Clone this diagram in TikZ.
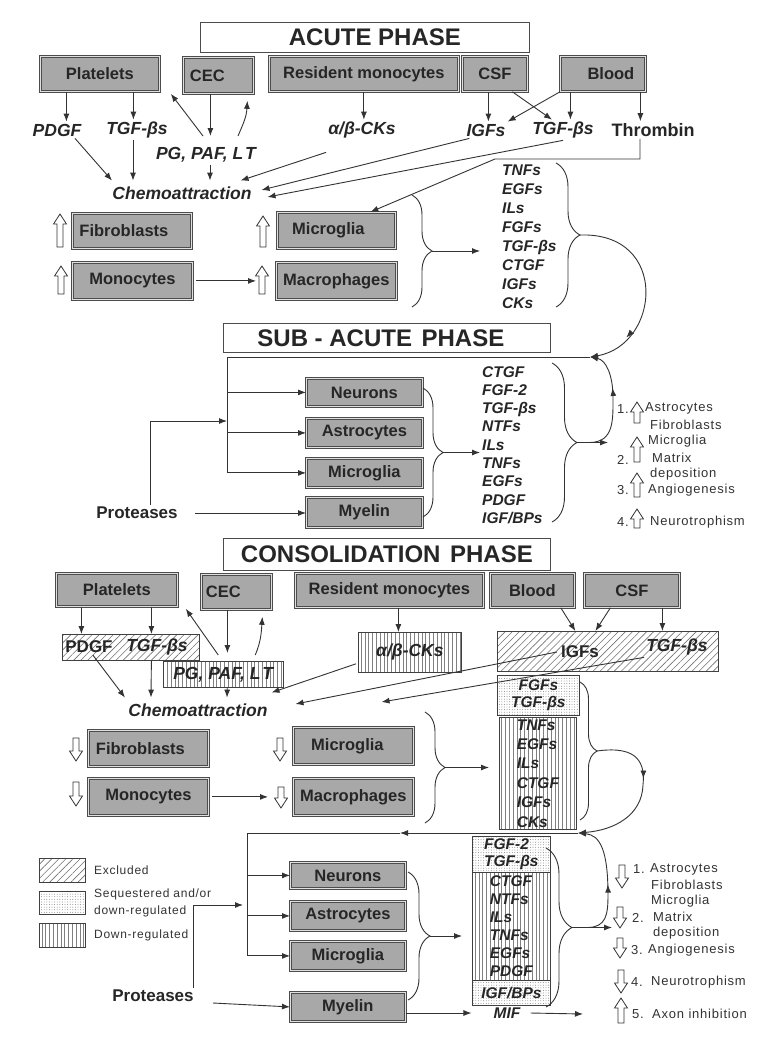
\documentclass[tikz,border=0pt]{standalone}
\usepackage{fontspec}
\setmainfont{Liberation Sans}
\newfontfamily\spacedsans[LetterSpace=6]{Liberation Sans}
\usetikzlibrary{arrows.meta,patterns.meta,decorations.pathreplacing,decorations.markings}
\tikzset{
	cell/.style={draw=black!70, double=black!12, double distance=1.4pt, line width=0.8pt, fill=black!34, text=black!85, font=\bfseries\fontsize{16.5}{18}\selectfont, inner sep=0pt, anchor=north west},
	phase/.style={draw=black!70, line width=0.8pt, fill=white, text=black!85, font=\bfseries\fontsize{24}{26}\selectfont, inner sep=0pt, anchor=north west},
	lbl/.style={font=\bfseries\itshape\fontsize{17.5}{19}\selectfont, text=black!85, inner sep=2pt},
	upr/.style={font=\bfseries\fontsize{17}{19}\selectfont, text=black!85, inner sep=2pt},
	lst/.style={font=\bfseries\itshape\fontsize{15.5}{19}\selectfont, text=black!85, inner sep=2pt, align=left},
	note/.style={font=\spacedsans\fontsize{13}{15}\selectfont, text=black!80, inner sep=0pt, anchor=west},
	ln/.style={draw=black!80, line width=0.9pt},
	arr/.style={ln, -{Latex[length=8pt,width=6pt]}},
	midarr/.style={postaction={decorate, decoration={markings, mark=at position #1 with {\arrow{Latex[length=8pt,width=6pt]}}}}},
	brc/.style={ln, decorate, decoration={brace, amplitude=#1}},
	blk/.style={draw=black!80, line width=0.8pt, fill=white},
	hatch/.style={draw=black!75, line width=0.8pt, pattern={Lines[angle=45,distance=5pt,line width=0.6pt]}, pattern color=black!55},
	vlin/.style={draw=black!75, line width=0.8pt, pattern={Lines[angle=90,distance=3.8pt,line width=0.5pt]}, pattern color=black!50},
	dots/.style={draw=black!75, line width=0.8pt, pattern={Dots[distance=2.6pt,radius=0.45pt]}, pattern color=black!55}
}
\newcommand\upblk[3]{\draw[blk] (#1-3,#3) -- (#1-3,#2+10) -- (#1-6.5,#2+10) -- (#1,#2) -- (#1+6.5,#2+10) -- (#1+3,#2+10) -- (#1+3,#3) -- cycle;}
\newcommand\dnblk[3]{\draw[blk] (#1-3,#2) -- (#1-3,#3-10) -- (#1-6.5,#3-10) -- (#1,#3) -- (#1+6.5,#3-10) -- (#1+3,#3-10) -- (#1+3,#2) -- cycle;}

\begin{document}
\begin{tikzpicture}[x=1pt,y=-1pt]
	\fill[white] (0,0) rectangle (767,1045);
	\useasboundingbox (0,0) rectangle (767,1045);

	\node[phase, minimum width=329pt, minimum height=30pt] (acute) at (200,22) {\hspace*{20pt}ACUTE PHASE};
	\node[cell, minimum width=119pt, minimum height=35pt] (plt) at (40,56) {Platelets};
	\node[cell, minimum width=70pt, minimum height=36pt] (cec) at (183,57) {CEC\hspace*{22pt}};
	\node[cell, minimum width=189pt, minimum height=35pt] (res) at (269,56) {Resident monocytes};
	\node[cell, minimum width=65pt, minimum height=35pt] (csf) at (462,56) {CSF};
	\node[cell, minimum width=85pt, minimum height=35pt] (blood) at (560,56) {\hspace*{16pt}Blood};

	\node[lbl] (pdgf) at (57,130) {PDGF};
	\node[lbl] (tgf) at (137,130) {TGF-βs};
	\node[lbl] (abck) at (362,130) {α/β-CKs};
	\node[lbl] (igf) at (486,130) {IGFs};
	\node[lbl] (tgfb) at (563,130) {TGF-βs};
	\node[upr, font=\bfseries\fontsize{18}{20}\selectfont] (thr) at (653,130) {Thrombin};
	\node[lbl] (pg) at (206,155) {PG, PAF, L\kern2pt T};
	\node[lbl, outer sep=4pt] (chemo) at (182,193) {Chemoattraction};
	\coordinate (pgtop) at (206,136);
	\coordinate (tbend) at (495,159);

	\draw[arr] ([xshift=-33.5]plt.south) -- ([xshift=-33.5]plt.south |- pdgf.north);
	\draw[arr] ([xshift=33.5]plt.south) -- ([xshift=33.5]plt.south |- tgf.north);
	\draw[arr] ([xshift=-4]tgf.south) -- ([xshift=-4]tgf.south |- chemo.north);
	\draw[arr] ([xshift=18]pdgf.south) -- ([xshift=-70]chemo.north);
	\draw[arr] ([xshift=-8]cec.south) -- ([xshift=-8]cec.south |- pgtop);
	\draw[arr] ([xshift=-3]pgtop) -- ([shift={(11,2)}]plt.south east);
	\draw[arr] ([xshift=32]pgtop) .. controls +(6,-14) and +(-1,16) .. ([shift={(29,7)}]cec.south);
	\draw[arr] ([xshift=4]pg.south) -- ([xshift=4]pg.south |- chemo.north);
	\draw[arr] ([shift={(0,12)}]abck.south west) -- ([shift={(-17,0)}]chemo.north east);
	\draw[arr] ([xshift=5]igf.south west) -- ([shift={(4,-3)}]chemo.east);
	\draw[arr] (tgfb.south) -- ([shift={(10,4)}]chemo.east);
	\draw[arr] (res.south) -- (res.south |- abck.north);
	\draw[arr] ([xshift=-6.5]csf.south) -- ([xshift=-6.5]csf.south |- igf.north);
	\draw[arr] ([xshift=17.5]csf.south) -- ([xshift=-11]tgfb.north);
	\draw[arr] (blood.south west) -- (igf.north east);
	\draw[arr] ([xshift=-32.5]blood.south) -- ([xshift=-32.5]blood.south |- tgfb.north);
	\draw[arr] ([xshift=37.5]blood.south) -- ([xshift=37.5]blood.south |- thr.north);

	\node[cell, minimum width=119pt, minimum height=35pt] (fib) at (72,213) {Fibroblasts\hspace*{16pt}};
	\node[cell, minimum width=118pt, minimum height=36pt] (mic) at (277,212) {Microglia\hspace*{16pt}};
	\node[cell, minimum width=120pt, minimum height=37pt] (mono) at (72,262) {Monocytes};
	\node[cell, minimum width=120pt, minimum height=37pt] (mac) at (276,262) {Macrophages};
	\upblk{60}{214}{247}
	\upblk{263}{216}{247}
	\upblk{61}{266}{294}
	\upblk{262}{266}{294}
	\draw[arr] ([xshift=-13]thr.south) |- (tbend) -- ([xshift=34]mic.north);
	\draw[arr] ([xshift=3]mono.east) -- ([xshift=-20]mac.west);

	\node[lst, anchor=west] (alist) at (500,236.5) {TNFs\\EGFs\\ILs\\FGFs\\TGF-βs\\CTGF\\IGFs\\CKs};
	\coordinate (ab1) at (412,195);
	\coordinate (ab2) at (412,307);
	\coordinate (abt) at (432,251);
	\draw[brc=20pt] (ab1) -- (ab2);
	\draw[arr, shorten >=20pt] (abt) -- (abt -| alist.west);
	\coordinate (ar1) at (556,163);
	\coordinate (ar2) at (556,307);
	\coordinate (art) at (580,235);
	\coordinate (j1) at (590,357);
	\draw[brc=24pt] (ar1) -- (ar2);
	\draw[arr, midarr=0.78] (art) .. controls (670,232) and (660,345) .. (j1);

	\node[phase, minimum width=327pt, minimum height=29pt] (sub) at (223,323) {SUB - ACUTE\hspace{0.4em}PHASE\hspace*{12pt}};
	\coordinate (c1) at (227,357);
	\coordinate (p1) at (227,421);
	\node[cell, minimum width=116pt, minimum height=28pt] (neu) at (306,378) {Neurons};
	\node[cell, minimum width=116pt, minimum height=29pt] (ast) at (306,418) {Astrocytes};
	\node[cell, minimum width=116pt, minimum height=29pt] (mic2) at (306,458) {Microglia};
	\node[cell, minimum width=116pt, minimum height=30pt] (mye) at (306,497) {Myelin};
	\node[upr] (prot) at (137,513) {Proteases};
	\draw[arr] (j1) -- (c1) -- (c1 |- mic2.west) -- (mic2.west);
	\draw[arr] (c1 |- neu.west) -- (neu.west);
	\draw[arr] (c1 |- ast.west) -- (ast.west);
	\draw[arr] ([xshift=13]prot.north) |- (p1);
	\draw[arr] ([xshift=15]prot.east) -- (prot.east -| mye.west);

	\node[lst, anchor=west, font=\bfseries\itshape\fontsize{15.5}{18.3}\selectfont] (slist) at (480,445) {CTGF\\FGF-2\\TGF-βs\\NTFs\\ILs\\TNFs\\EGFs\\PDGF\\IGF/BPs};
	\coordinate (sb1) at (423,388);
	\coordinate (sb2) at (423,517);
	\coordinate (sbt) at (443,452.5);
	\draw[brc=20pt] (sb1) -- (sb2);
	\draw[arr] (sbt) -- (sbt -| slist.west);
	\coordinate (sr1) at (552,363);
	\coordinate (sr2) at (552,522);
	\coordinate (srt) at (577,442.5);
	\coordinate (sl) at (590,442.5);
	\coordinate (sout) at (608,442.5);
	\draw[brc=25pt] (sr1) -- (sr2);
	\draw[arr] (srt) -- (sout);
	\draw[arr, midarr=0.62] (sl) .. controls (614,442) and (613,420) .. (613,398) .. controls (613,375) and (606,360) .. (j1);

	\upblk{637}{402}{423}
	\upblk{637}{437}{462}
	\upblk{637}{473}{497}
	\upblk{637}{509}{528}
	\node[note] (s1n) at (617,409) {1.};
	\node[note] (s1a) at (645,408) {Astrocytes};
	\node[note] (s1b) at (650,425) {Fibroblasts};
	\node[note] (s1c) at (648,441) {Microglia};
	\node[note] (s2n) at (617,460) {2.};
	\node[note] (s2a) at (652,458) {Matrix};
	\node[note] (s2b) at (650,474) {deposition};
	\node[note] (s3n) at (617,490) {3.};
	\node[note] (s3a) at (648,490) {Angiogenesis};
	\node[note] (s4n) at (617,522) {4.};
	\node[note] (s4a) at (650,522) {Neurotrophism};

	\node[phase, minimum width=327pt, minimum height=32pt] (cons) at (223,538) {CONSOLIDATION\hspace{0.4em}PHASE};
	\node[cell, minimum width=121pt, minimum height=33pt] (plt3) at (56,573) {Platelets};
	\node[cell, minimum width=70pt, minimum height=35pt] (cec3) at (201,574) {CEC\hspace*{26pt}};
	\node[cell, minimum width=188pt, minimum height=34pt] (res3) at (295,573) {Resident monocytes};
	\node[cell, minimum width=84pt, minimum height=34pt] (blood3) at (490,573) {Blood};
	\node[cell, minimum width=95pt, minimum height=34pt] (csf3) at (584,573) {CSF};

	\node[hatch, anchor=north west, minimum width=137pt, minimum height=26pt] (pbox) at (62,634) {};
	\node[upr] (pdgf3) at (89,647) {PDGF};
	\node[lbl] (tgf3) at (157,647) {TGF-βs};
	\node[vlin, lbl, anchor=north west, minimum width=120pt, minimum height=26pt] (pgbox) at (163,661) {PG, PAF, L\kern2pt T};
	\node[vlin, lbl, anchor=north west, minimum width=103pt, minimum height=40pt] (abbox) at (358,632) {α/β-CKs};
	\node[hatch, anchor=north west, minimum width=221pt, minimum height=40pt] (igbox) at (497,631) {};
	\node[upr] (igf3) at (580,652) {IGFs};
	\node[lbl] (tgf4) at (677,647) {TGF-βs};
	\node[lbl, outer sep=4pt] (chemo3) at (198,710) {Chemoattraction};

	\draw[arr] ([xshift=-35.5]plt3.south) -- ([xshift=-35.5]plt3.south |- pbox.north);
	\draw[arr] ([xshift=34.5]plt3.south) -- ([xshift=34.5]plt3.south |- pbox.north);
	\draw[arr] ([xshift=34.5]plt3.south |- pbox.south) -- ([xshift=-47]chemo3.north);
	\draw[arr] ([xshift=4]pdgf3.south) -- ([xshift=-73]chemo3.north);
	\draw[arr, shorten >=8pt] ([xshift=-9]cec3.south) -- ([xshift=-9]cec3.south |- pgbox.north);
	\draw[arr] ([shift={(-5,-6)}]pgbox.north) -- ([shift={(8,2)}]plt3.south east);
	\draw[arr] ([shift={(32,-6)}]pgbox.north) .. controls +(6,-14) and +(-1,14) .. ([shift={(26,7)}]cec3.south);
	\draw[arr] ([xshift=4]pgbox.south) -- ([xshift=29]chemo3.north);
	\draw[arr] ([xshift=9]res3.south) -- ([xshift=9]res3.south |- abbox.north);
	\draw[arr] ([shift={(-2,-9)}]abbox.south west) -- ([shift={(-2,-5)}]chemo3.north east);
	\draw[arr] ([xshift=-2]igf3.west) -- ([shift={(22,-6)}]chemo3.east);
	\draw[arr] (tgf4.south west) -- ([shift={(108,-8)}]chemo3.east);
	\draw[arr] ([xshift=-14]blood3.south east) -- ([xshift=-32.5]igbox.north);
	\draw[arr] ([xshift=-21.5]csf3.south) -- ([xshift=-12.5]igbox.north);
	\draw[arr] ([xshift=30.5]csf3.south) -- ([xshift=30.5]csf3.south |- igbox.north);

	\node[dots, lst, align=center, anchor=north west, minimum width=82pt, minimum height=40pt, font=\bfseries\itshape\fontsize{15.5}{17}\selectfont] (fgbox) at (497,675) {FGFs\\TGF-βs};
	\node[vlin, lst, anchor=north west, minimum width=77pt, minimum height=111pt, font=\bfseries\itshape\fontsize{15.5}{19.4}\selectfont] (tnbox) at (499,717) {TNFs\\EGFs\\ILs\\CTGF\\IGFs\\CKs};

	\node[cell, minimum width=120pt, minimum height=36pt] (fib3) at (88,730) {Fibroblasts\hspace*{16pt}};
	\node[cell, minimum width=120pt, minimum height=37pt] (mic3) at (293,727) {Microglia\hspace*{12pt}};
	\node[cell, minimum width=120pt, minimum height=37pt] (mono3) at (88,778) {Monocytes};
	\node[cell, minimum width=120pt, minimum height=37pt] (mac3) at (293,778) {Macrophages};
	\dnblk{76}{738}{761}
	\dnblk{280}{738}{761}
	\dnblk{76}{782}{806}
	\dnblk{281}{787}{808}
	\draw[arr] ([xshift=3]mono3.east) -- ([xshift=-25]mac3.west);

	\coordinate (cb1) at (425,712);
	\coordinate (cb2) at (425,823);
	\coordinate (cbt) at (445,767.5);
	\draw[brc=20pt] (cb1) -- (cb2);
	\draw[arr, shorten >=10pt] (cbt) -- (cbt -| tnbox.west);
	\coordinate (cr1) at (580,682);
	\coordinate (cr2) at (580,820);
	\coordinate (crt) at (597,751);
	\coordinate (j2) at (578,833);
	\coordinate (m2) at (400,833);
	\coordinate (c2) at (247,833);
	\draw[brc=17pt] (cr1) -- (cr2);
	\draw[arr, midarr=0.4] (crt) .. controls (640,745) and (645,765) .. (643,785) .. controls (642,815) and (615,830) .. (j2);

	\node[cell, minimum width=115pt, minimum height=26pt] (neu4) at (290,862) {Neurons};
	\node[cell, minimum width=115pt, minimum height=29pt] (ast4) at (290,901) {Astrocytes};
	\node[cell, minimum width=115pt, minimum height=29pt] (mic4) at (290,941) {Microglia};
	\node[cell, minimum width=115pt, minimum height=29pt] (mye4) at (290,992) {Myelin};
	\node[upr] (prot4) at (153,996) {Proteases};
	\coordinate (p2) at (243,905);
	\draw[arr] (j2) -- (m2);
	\draw[arr] (m2) -- (c2) -- (c2 |- mic4.west) -- (mic4.west);
	\draw[arr] (c2 |- neu4.west) -- (neu4.west);
	\draw[arr] (c2 |- ast4.west) -- (ast4.west);
	\draw[arr] ([xshift=40]prot4.north) |- (p2);
	\draw[arr] ([shift={(17,7)}]prot4.east) -- (mye4.west);

	\node[hatch, anchor=north west, minimum width=46pt, minimum height=24pt] (lg1) at (39,858) {};
	\node[dots, anchor=north west, minimum width=46pt, minimum height=23pt] (lg2) at (39,891) {};
	\node[vlin, anchor=north west, minimum width=46pt, minimum height=24pt] (lg3) at (39,923) {};
	\node[note, font=\spacedsans\fontsize{12}{17}\selectfont] (lt1) at (94,870) {Excluded};
	\node[note, align=left, font=\spacedsans\fontsize{12}{17}\selectfont] (lt2) at (94,902.5) {Sequestered and/or\\down-regulated};
	\node[note, font=\spacedsans\fontsize{12}{17}\selectfont] (lt3) at (94,935) {Down-regulated};

	\node[dots, lst, anchor=north west, minimum width=78pt, minimum height=36pt, font=\bfseries\itshape\fontsize{15.5}{17}\selectfont] (d1box) at (472,836) {FGF-2\\TGF-βs};
	\node[vlin, lst, anchor=north west, minimum width=78pt, minimum height=108pt, font=\bfseries\itshape\fontsize{15.5}{18}\selectfont] (v2box) at (472,872) {CTGF\\NTFs\\ILs\\TNFs\\EGFs\\PDGF};
	\node[dots, lst, anchor=north west, minimum width=78pt, minimum height=25pt] (d2box) at (472,980) {IGF/BPs};
	\node[lst] (mif) at (507,1013) {MIF};
	\coordinate (lb1) at (408,872);
	\coordinate (lb2) at (408,1000);
	\coordinate (lbt) at (430,936);
	\draw[brc=22pt] (lb1) -- (lb2);
	\draw[arr, shorten >=10pt] (lbt) -- (lbt -| v2box.west);
	\draw[arr, shorten >=20pt] (mye4.east |- mif.west) -- (mif.west);
	\coordinate (mout) at (583,1014);
	\draw[arr] ([xshift=8]mif.east) -- (mout);
	\coordinate (lr1) at (546,848);
	\coordinate (lr2) at (546,1007);
	\coordinate (lrt) at (572,927.5);
	\coordinate (ll) at (588,927.5);
	\coordinate (lout) at (612,927.5);
	\draw[brc=26pt] (lr1) -- (lr2);
	\draw[arr] (lrt) -- (lout);
	\draw[arr, midarr=0.45] (ll) .. controls (606,927) and (608,915) .. (608,895) .. controls (608,850) and (600,835) .. (j2);

	\dnblk{622}{865}{888}
	\dnblk{620}{907}{928}
	\dnblk{620}{938}{958}
	\dnblk{621}{970}{993}
	\upblk{621}{998}{1023}
	\node[note] (k1n) at (633,869) {1.};
	\node[note] (k1a) at (650,869) {Astrocytes};
	\node[note] (k1b) at (651,885) {Fibroblasts};
	\node[note] (k1c) at (651,901) {Microglia};
	\node[note] (k2n) at (632,918) {2.};
	\node[note] (k2a) at (653,917) {Matrix};
	\node[note] (k2b) at (653,933) {deposition};
	\node[note] (k3n) at (631,950) {3.};
	\node[note] (k3a) at (648,950) {Angiogenesis};
	\node[note] (k4n) at (631,982) {4.};
	\node[note] (k4a) at (651,982) {Neurotrophism};
	\node[note] (k5n) at (632,1014) {5.};
	\node[note] (k5a) at (652,1014) {Axon inhibition};
\end{tikzpicture}
\end{document}
